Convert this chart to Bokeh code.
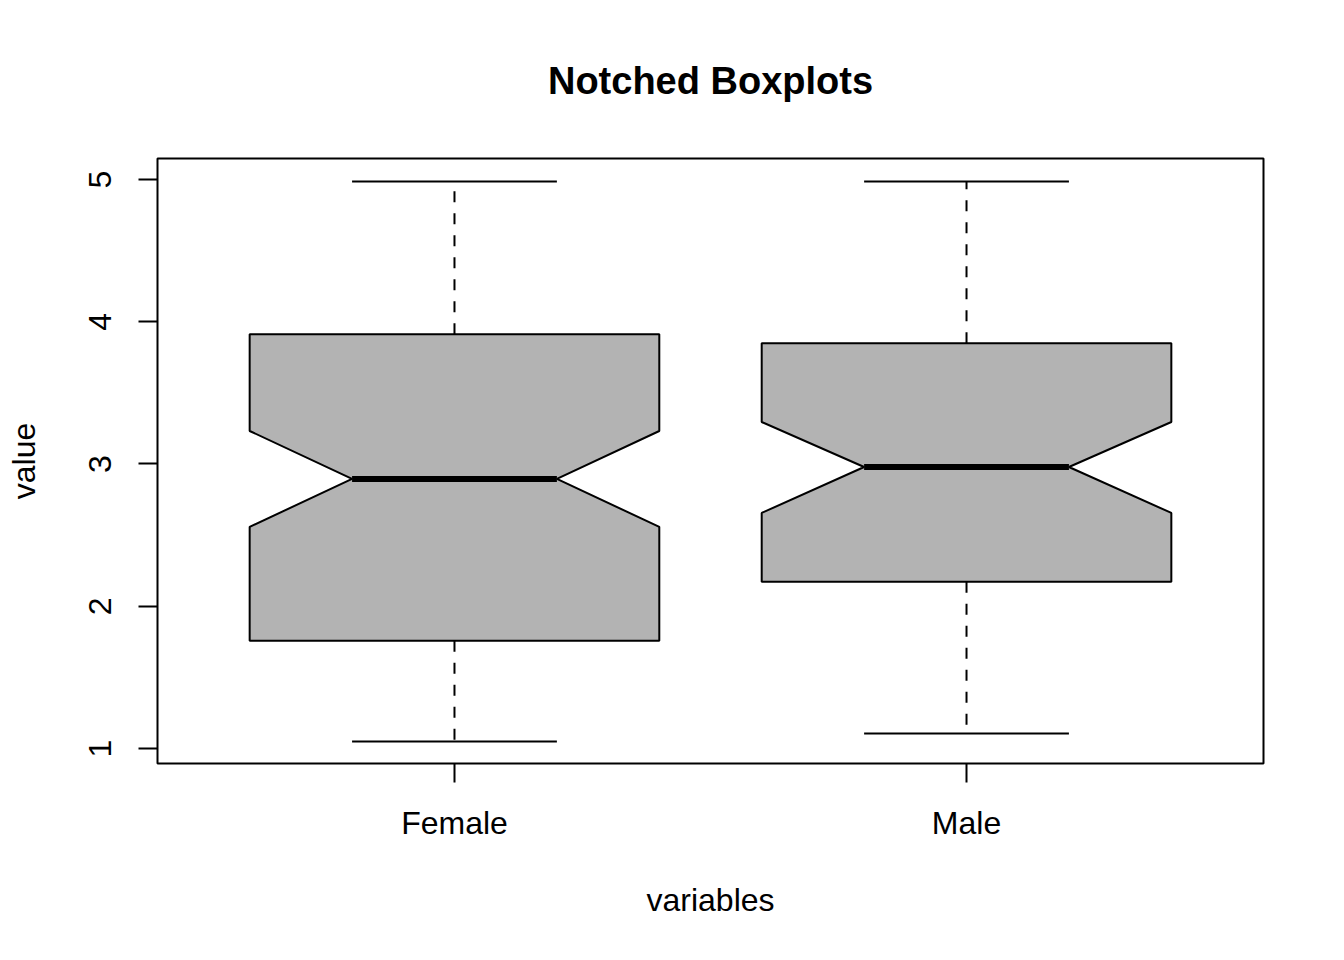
from bokeh.plotting import figure
from bokeh.models import Range1d, FixedTicker
from bokeh.embed import file_html
from bokeh.resources import INLINE

# ---- data ----
categories = ["Female", "Male"]
positions = [1, 2]
whisker_low = [1.05, 1.105]
q1 = [1.758, 2.172]
median = [2.895, 2.979]
q3 = [3.912, 3.849]
whisker_high = [4.986, 4.986]
notch_low = [2.558, 2.656]
notch_high = [3.232, 3.295]
y_ticks = [1, 2, 3, 4, 5]

FONT = "Liberation Sans"
half_w = 0.4
half_n = 0.2

p = figure(width=1344, height=960, output_backend="svg", toolbar_location=None,
           x_range=Range1d(0.42, 2.58), y_range=Range1d(0.8947, 5.1474),
           min_border_left=157, min_border_right=81, min_border_top=157,
           min_border_bottom=197)
p.background_fill_color = "white"
p.border_fill_color = "white"
p.xgrid.visible = False
p.ygrid.visible = False
p.outline_line_color = "black"
p.outline_line_width = 2

# title
p.title.text = "Notched Boxplots"
p.title.align = "center"
p.title.text_font = FONT
p.title.text_font_size = "38px"
p.title.text_font_style = "bold"
p.title.text_color = "black"
p.title.standoff = 114

# notched boxes
xs, ys = [], []
for c, a, nl, m, nh, b in zip(positions, q1, notch_low, median, notch_high, q3):
    xs.append([c - half_w, c - half_w, c - half_n, c - half_w, c - half_w,
               c + half_w, c + half_w, c + half_n, c + half_w, c + half_w])
    ys.append([a, nl, m, nh, b, b, nh, m, nl, a])
p.patches(xs, ys, fill_color="#B3B3B3", line_color="black", line_width=2)

# whiskers (dashed)
p.segment(x0=positions, y0=q3, x1=positions, y1=whisker_high,
          line_color="black", line_width=2, line_dash="11 11")
p.segment(x0=positions, y0=q1, x1=positions, y1=whisker_low,
          line_color="black", line_width=2, line_dash="11 11")
# staples
left = [c - half_n for c in positions]
right = [c + half_n for c in positions]
p.segment(x0=left, y0=whisker_high, x1=right, y1=whisker_high, line_color="black", line_width=2)
p.segment(x0=left, y0=whisker_low, x1=right, y1=whisker_low, line_color="black", line_width=2)
# medians
p.segment(x0=left, y0=median, x1=right, y1=median, line_color="black", line_width=6)

# axes
for ax in (p.xaxis[0], p.yaxis[0]):
    ax.axis_line_color = None
    ax.major_tick_line_color = "black"
    ax.major_tick_line_width = 2
    ax.major_tick_out = 19
    ax.major_tick_in = 0
    ax.minor_tick_line_color = None
    ax.major_label_text_font = FONT
    ax.major_label_text_font_size = "32px"
    ax.major_label_text_color = "black"
    ax.axis_label_text_font = FONT
    ax.axis_label_text_font_size = "32px"
    ax.axis_label_text_font_style = "normal"
    ax.axis_label_text_color = "black"

p.xaxis.ticker = FixedTicker(ticks=positions)
p.xaxis.major_label_overrides = {pos: cat for pos, cat in zip(positions, categories)}
p.xaxis.axis_label = "variables"
p.xaxis.major_label_standoff = 22
p.xaxis.axis_label_standoff = 38

p.yaxis.ticker = FixedTicker(ticks=y_ticks)
p.yaxis.major_label_orientation = "vertical"
p.yaxis.axis_label = "value"
p.yaxis.major_label_standoff = 27
p.yaxis.axis_label_standoff = 45

open("out.html", "w").write(file_html(p, INLINE))
